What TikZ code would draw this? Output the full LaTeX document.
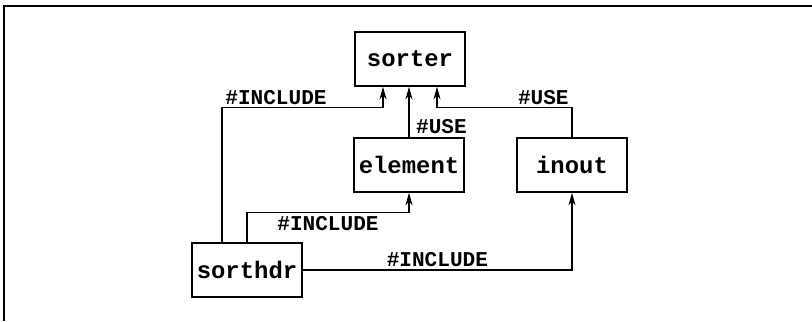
\documentclass[tikz,border=0pt]{standalone}
\usepackage{fontspec}
\setmonofont{Liberation Mono}
\usetikzlibrary{arrows.meta,calc}
\begin{document}
\begin{tikzpicture}[every node/.style={font=\ttfamily\bfseries},
  modbox/.style={draw, line width=1.1pt, minimum width=2.75cm, minimum height=1.35cm, inner sep=1pt, font=\ttfamily\bfseries\fontsize{17}{20}\selectfont},
  lbl/.style={inner sep=2pt, font=\ttfamily\bfseries\fontsize{15}{18}\selectfont},
  link/.style={line width=0.8pt, -{Stealth[length=9pt,width=5pt]}}]
\useasboundingbox (0,0) rectangle (20.3,8.025);
\draw[line width=1.2pt] (0.1,0) -- (0.1,7.875) -- (20.3,7.875);
\node[modbox] (sorter) at (10.25,6.55) {sorter};
\node[modbox] (element) at (10.225,3.9) {element};
\node[modbox] (inout) at (14.3,3.9) {inout};
\node[modbox] (sorthdr) at (6.175,1.275) {sorthdr};
\coordinate (inL) at ([xshift=-0.675cm]sorter.south);
\coordinate (inR) at ([xshift=0.675cm]sorter.south);
\draw[link] ([xshift=-0.625cm]sorthdr.north) |- ($(inL)+(0,-0.525)$) node[lbl, anchor=south west, pos=0.5] {\#INCLUDE} -- (inL);
\draw[link] (element.north) -- (element.north |- sorter.south);
\node[lbl, anchor=south west] at ([xshift=0.1cm]element.north) {\#USE};
\draw[link] (inout.north) |- ($(inR)+(0,-0.525)$) node[lbl, anchor=south east, pos=0.5] {\#USE} -- (inR);
\draw[link] (sorthdr.north) |- ($(element.south)+(0,-0.5)$) node[lbl, below, pos=0.75] {\#INCLUDE} -- (element.south);
\draw[link] (sorthdr.east) -| (inout.south) node[lbl, above, pos=0.25] {\#INCLUDE};
\end{tikzpicture}
\end{document}
